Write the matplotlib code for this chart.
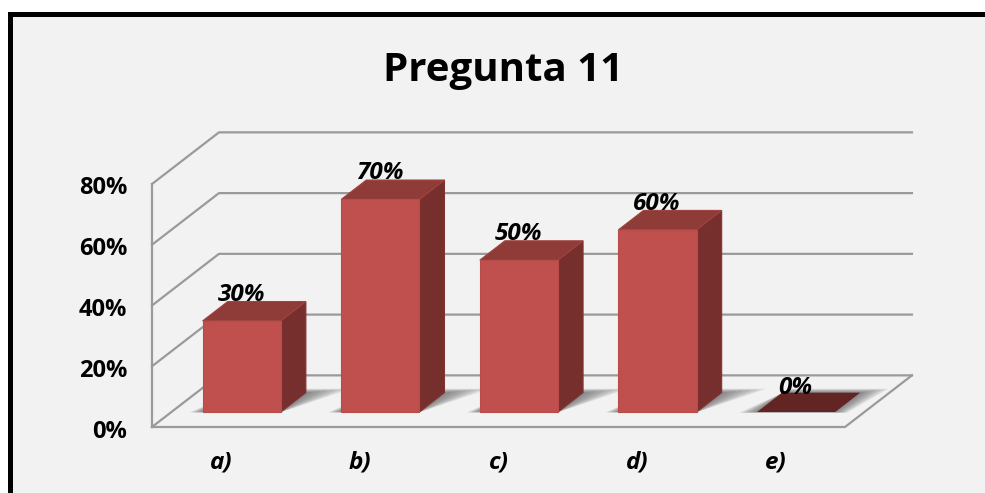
import matplotlib
matplotlib.use("Agg")
import matplotlib.pyplot as plt
from matplotlib.patches import Polygon, Rectangle
from matplotlib.transforms import ScaledTranslation

categorias = ["a)", "b)", "c)", "d)", "e)"]
valores = [30, 70, 50, 60, 0]
etiquetas = ["30%", "70%", "50%", "60%", "0%"]
ticks = [0, 20, 40, 60, 80]

W, H = 985, 493
plt.rcParams['font.family'] = ['Open Sans', 'DejaVu Sans']

fig = plt.figure(figsize=(W / 100, H / 100), dpi=100, facecolor='white')

# marco negro del grafico (a la derecha y abajo se corta con la imagen)
fig.add_artist(Rectangle((10 / W, -0.05), 1.05, 1.05 - 13.5 / H, transform=fig.transFigure,
                         facecolor='#f2f2f2', edgecolor='black', linewidth=3.6, zorder=-5))

# ejes: suelo frontal de 152 a 845 px, 0% en y=427 y 80% en y=184
ax = fig.add_axes([152 / W, 1 - 427 / H, 693 / W, 243 / H], zorder=2)
ax.patch.set_alpha(0)
ax.set_xlim(-0.5, 4.5)
ax.set_ylim(0, 80)
for s in ax.spines.values():
    s.set_visible(False)

# profundidad del 3D en unidades de datos
dx = 0.483
dy = 17.0
gris = '#9a9a9a'


def linea(xs, ys, lw=1.6):
    ax.plot(xs, ys, color=gris, lw=lw, clip_on=False, zorder=1, solid_capstyle='projecting')


# paredes y suelo
for t in ticks:
    linea([-0.5, -0.5 + dx, 4.5 + dx], [t, t + dy, t + dy])
linea([-0.5, -0.5], [0, 80])
linea([-0.5, 4.5, 4.5 + dx], [0, 0, dy])


def punto(x, y, z):
    return (x + dx * z, y + dy * z)


ancho = 0.282
z0, z1 = 0.29, 0.665
sombras = [0.30, 0.25, 0.20, 0.15, 0.10, 0.05]
for i, v in enumerate(valores):
    c = i + 0.007
    # sombra en el suelo, por capas para simular el difuminado
    for k in sombras:
        if v == 0:
            cuad = [punto(c - ancho - k * 0.4, 0, z0 - k * 0.05), punto(c + ancho + k * 0.3, 0, z0 - k * 0.05),
                    punto(c + ancho + k * 0.55, 0, z1 + k * 0.25), punto(c - ancho + k * 0.1, 0, z1 + k * 0.25)]
        else:
            cuad = [punto(c - ancho - k * 0.3, 0, z0 - k * 0.03), punto(c + ancho, 0, z0 - k * 0.03),
                    punto(c + ancho + k * 0.95, 0, z1 + k * 0.25), punto(c - ancho + k * 0.3, 0, z1 + k * 0.25)]
        ax.add_patch(Polygon(cuad, facecolor='#444444', edgecolor='none', alpha=0.13, clip_on=False, zorder=2))
    if v == 0:
        ax.add_patch(Polygon([punto(c - ancho, 0, z0), punto(c + ancho, 0, z0),
                              punto(c + ancho, 0, z1), punto(c - ancho, 0, z1)],
                             facecolor='#632523', edgecolor='none', clip_on=False, zorder=3))
    else:
        # cara lateral, superior y frontal
        ax.add_patch(Polygon([punto(c + ancho, 0, z0), punto(c + ancho, 0, z1),
                              punto(c + ancho, v, z1), punto(c + ancho, v, z0)],
                             facecolor='#772f2d', edgecolor='#803533', lw=0.8, clip_on=False, zorder=3))
        ax.add_patch(Polygon([punto(c - ancho, v, z0), punto(c + ancho, v, z0),
                              punto(c + ancho, v, z1), punto(c - ancho, v, z1)],
                             facecolor='#8f3b38', edgecolor='#a0433f', lw=0.8, clip_on=False, zorder=3))
        ax.add_patch(Polygon([punto(c - ancho, 0, z0), punto(c + ancho, 0, z0),
                              punto(c + ancho, v, z0), punto(c - ancho, v, z0)],
                             facecolor='#c0504d', edgecolor='#b84c49', lw=0.8, clip_on=False, zorder=4))
    # etiqueta de valor
    px, py = punto(i, v, 0.64)
    ax.text(px - 0.166, py + (2.7 if v else 1.9), etiquetas[i], ha='center', va='center', fontsize=17.5,
            fontweight='bold', fontstyle='italic', color='black', zorder=5, clip_on=False)

ax.set_yticks(ticks)
ax.set_yticklabels([f"{t}%" for t in ticks], fontsize=17, fontweight='bold', color='black')
ax.set_xticks(range(len(categorias)))
ax.set_xticklabels(categorias, fontsize=17.5, fontweight='bold', fontstyle='italic', color='black')
ax.tick_params(axis='y', length=0, pad=18)
ax.tick_params(axis='x', length=0, pad=17)

# bajar un poco las etiquetas del eje y
bajar = ScaledTranslation(0, -1.5 / 100, fig.dpi_scale_trans)
for lab in ax.get_yticklabels():
    lab.set_transform(lab.get_transform() + bajar)

fig.text(503 / W, 1 - 71 / H, "Pregunta 11", ha='center', va='center', fontsize=29, fontweight='bold', color='black')

fig.savefig("out.png", dpi=100)
